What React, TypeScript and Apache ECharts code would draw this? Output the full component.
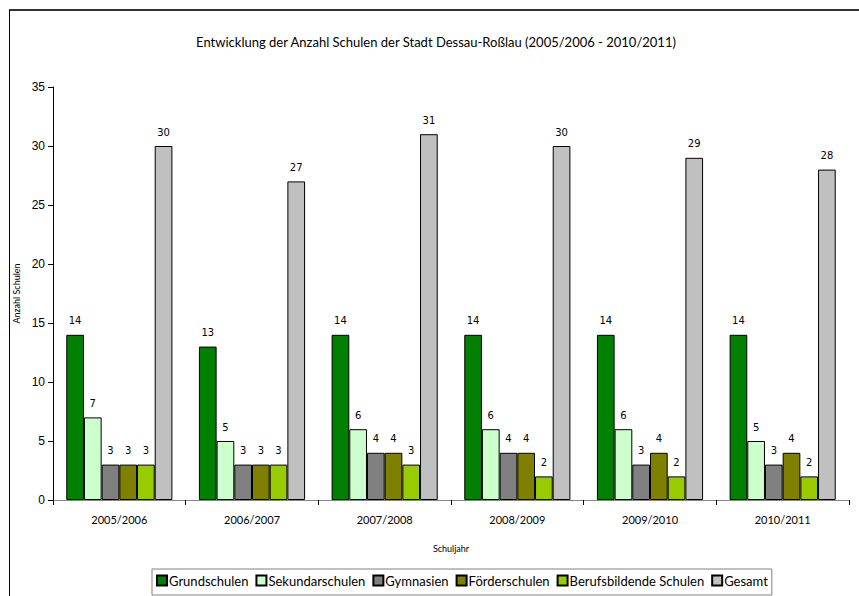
import React, { useEffect, useRef } from "react";
import * as echarts from "echarts";

const categories = ["2005/2006", "2006/2007", "2007/2008", "2008/2009", "2009/2010", "2010/2011"];
const seriesNames = ["Grundschulen", "Sekundarschulen", "Gymnasien", "Förderschulen", "Berufsbildende Schulen", "Gesamt"];
const grundschulen = [14, 13, 14, 14, 14, 14];
const sekundarschulen = [7, 5, 6, 6, 6, 5];
const gymnasien = [3, 3, 4, 4, 3, 3];
const foerderschulen = [3, 3, 4, 4, 4, 4];
const berufsbildende = [3, 3, 3, 2, 2, 2];
const gesamt = [30, 27, 31, 30, 29, 28];
const seriesColors = ["#008000", "#CCFFCC", "#808080", "#808000", "#99CC00", "#C0C0C0"];
const titleText = "Entwicklung der Anzahl Schulen der Stadt Dessau-Roßlau (2005/2006 - 2010/2011)";

export default function App() {
  const ref = useRef<HTMLDivElement>(null);
  useEffect(() => {
    if (!ref.current) return;
    const chart = echarts.init(ref.current, null, { renderer: "svg" });
    const values = [grundschulen, sekundarschulen, gymnasien, foerderschulen, berufsbildende, gesamt];
    chart.setOption({
      animation: false,
      backgroundColor: "#ffffff",
      title: {
        text: titleText,
        left: 431,
        textAlign: "center",
        top: 30,
        textStyle: { fontFamily: "Lato", fontSize: 13, fontWeight: "normal", color: "#000" },
      },
      graphic: [
        { type: "line", shape: { x1: 9, y1: 10, x2: 859, y2: 10 }, style: { stroke: "#333", lineWidth: 2 } },
        { type: "line", shape: { x1: 9.5, y1: 10, x2: 9.5, y2: 596 }, style: { stroke: "#000", lineWidth: 1 } },
      ],
      legend: {
        left: 152,
        top: 569,
        data: seriesNames,
        borderColor: "#808080",
        borderWidth: 1,
        padding: [5, 4, 8, 4],
        itemWidth: 10,
        itemHeight: 10,
        itemGap: 7,
        icon: "rect",
        textStyle: { fontFamily: "Lato", fontSize: 13, color: "#000", padding: [0, 0, 0, -3] },
      },
      grid: { left: 53, right: 10, top: 87, bottom: 96 },
      xAxis: {
        type: "category",
        data: categories,
        name: "Schuljahr",
        nameLocation: "middle",
        nameGap: 44,
        nameTextStyle: { fontFamily: "Lato", fontSize: 9, color: "#000" },
        axisLine: { lineStyle: { color: "#868686" } },
        axisTick: { show: true, length: 5, lineStyle: { color: "#000" } },
        axisLabel: { fontFamily: "Lato", fontSize: 11, color: "#000", margin: 14 },
      },
      yAxis: {
        type: "value",
        min: 0,
        max: 35,
        interval: 5,
        name: "Anzahl Schulen",
        nameLocation: "middle",
        nameGap: 30,
        nameTextStyle: { fontFamily: "Lato", fontSize: 9, color: "#000" },
        axisLine: { show: true, lineStyle: { color: "#000" } },
        axisTick: { show: true, length: 5, lineStyle: { color: "#000" } },
        axisLabel: { fontFamily: "Liberation Sans", fontSize: 12, color: "#000", margin: 8 },
        splitLine: { show: false },
      },
      series: seriesNames.map((name, i) => ({
        name,
        type: "bar",
        data: values[i],
        barGap: "0%",
        barCategoryGap: "20%",
        itemStyle: { color: seriesColors[i], borderColor: "#000", borderWidth: 1 },
        label: {
          show: true,
          position: "top",
          distance: 9,
          fontFamily: "DejaVu Sans",
          fontSize: 10,
          color: "#000",
        },
      })),
    });
    return () => chart.dispose();
  }, []);
  return <div ref={ref} style={{ position: "fixed", left: 0, top: 0, width: 859, height: 596 }} />;
}
